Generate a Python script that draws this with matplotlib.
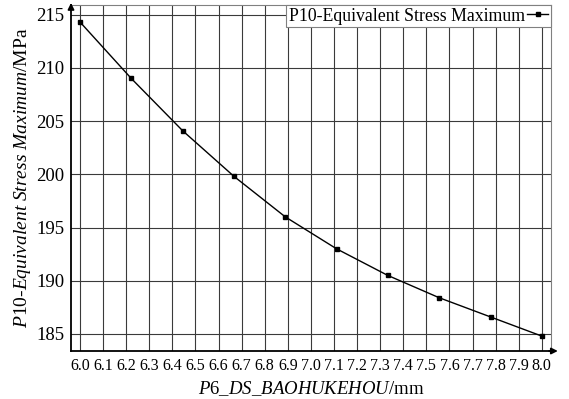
import matplotlib.pyplot as plt
import numpy as np

# values
thickness = [6.0, 6.222, 6.444, 6.667, 6.889, 7.111, 7.333, 7.556, 7.778, 8.0]
stress_max = [214.3, 209.0, 204.1, 199.8, 196.0, 193.0, 190.5, 188.4, 186.6, 184.8]
x_ticks = [round(6.0 + 0.1 * i, 1) for i in range(21)]
y_ticks = [185, 190, 195, 200, 205, 210, 215]
series_name = "P10-Equivalent Stress Maximum"

plt.rcParams["font.family"] = ["Liberation Serif", "DejaVu Serif"]
plt.rcParams["mathtext.fontset"] = "custom"
plt.rcParams["mathtext.rm"] = "Liberation Serif"
plt.rcParams["mathtext.it"] = "Liberation Serif:italic"

fig = plt.figure(figsize=(5.69, 3.99), dpi=100)
ax = fig.add_axes([0.1248, 0.1203, 0.8436, 0.8672])

ax.plot(thickness, stress_max, color="black", linewidth=1.0, marker="s",
        markersize=2.8, label=series_name, zorder=3)

ax.set_xlim(5.961, 8.04)
ax.set_ylim(183.4, 215.9)
ax.set_xticks(x_ticks)
ax.set_xticklabels([f"{v:.1f}" for v in x_ticks], fontsize=11.5)
ax.set_yticks(y_ticks)
ax.set_yticklabels([str(v) for v in y_ticks], fontsize=13.5)
ax.tick_params(axis="both", length=0)
ax.tick_params(axis="x", pad=5)
ax.tick_params(axis="y", pad=5)

ax.grid(True, color="#3a3a3a", linewidth=0.8)
ax.set_axisbelow(True)

for side in ["top", "right"]:
    ax.spines[side].set_color("#808080")
    ax.spines[side].set_linewidth(0.8)
for side in ["left", "bottom"]:
    ax.spines[side].set_color("black")
    ax.spines[side].set_linewidth(1.3)

# arrows on the axes
ax.annotate("", xy=(0, 1.014), xytext=(0, 0.98), xycoords="axes fraction",
            arrowprops=dict(arrowstyle="-|>", color="black", lw=1.3,
                            mutation_scale=9), annotation_clip=False)
ax.annotate("", xy=(1.02, 0), xytext=(0.99, 0), xycoords="axes fraction",
            arrowprops=dict(arrowstyle="-|>", color="black", lw=1.3,
                            mutation_scale=9), annotation_clip=False)

leg = ax.legend(loc="upper right", fontsize=12.8, markerfirst=False,
                handlelength=1.2, handletextpad=0.1, borderpad=0.15,
                borderaxespad=0.0, fancybox=False, framealpha=1.0,
                edgecolor="#808080")
leg.get_frame().set_linewidth(0.8)

ax.set_xlabel(r"$\mathit{P6\_DS\_BAOHUKEHOU}$/mm", fontsize=13.5, labelpad=4)
ax.set_ylabel(r"$\mathit{P10}$-$\mathit{Equivalent\ Stress\ Maximum}$/MPa",
              fontsize=14, labelpad=2)

fig.savefig("out.png", dpi=100)
